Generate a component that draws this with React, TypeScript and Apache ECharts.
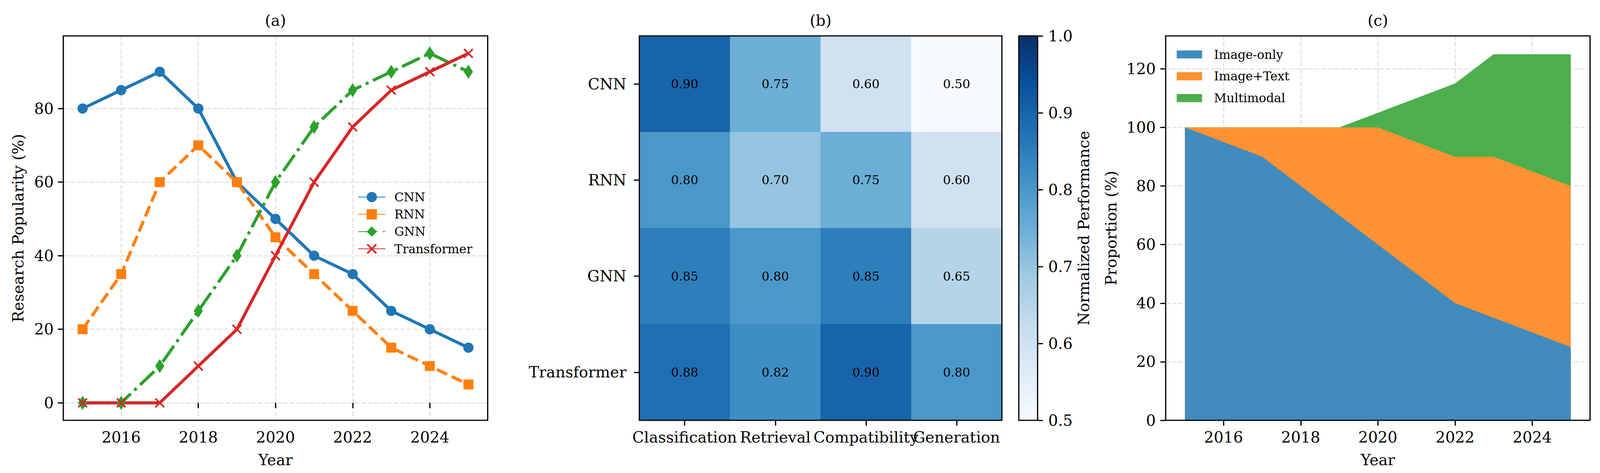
import React, { useEffect, useRef } from "react";
import * as echarts from "echarts";

// ---------------- data ----------------
const years = [2015, 2016, 2017, 2018, 2019, 2020, 2021, 2022, 2023, 2024, 2025];
const cnn = [80, 85, 90, 80, 60, 50, 40, 35, 25, 20, 15];
const rnn = [20, 35, 60, 70, 60, 45, 35, 25, 15, 10, 5];
const gnn = [0, 0, 10, 25, 40, 60, 75, 85, 90, 95, 90];
const transformer = [0, 0, 0, 10, 20, 40, 60, 75, 85, 90, 95];

const heatRows = ["CNN", "RNN", "GNN", "Transformer"];
const heatCols = ["Classification", "Retrieval", "Compatibility", "Generation"];
const heatCNN = [0.9, 0.75, 0.6, 0.5];
const heatRNN = [0.8, 0.7, 0.75, 0.6];
const heatGNN = [0.85, 0.8, 0.85, 0.65];
const heatTransformer = [0.88, 0.82, 0.9, 0.8];

const imageOnly = [100, 95, 90, 80, 70, 60, 50, 40, 35, 30, 25];
const imageText = [0, 5, 10, 20, 30, 40, 45, 50, 55, 55, 55];
const multimodal = [0, 0, 0, 0, 0, 5, 15, 25, 35, 40, 45];

const yearTicks = [2016, 2018, 2020, 2022, 2024];
const popTicks = [0, 20, 40, 60, 80];
const propTicks = [0, 20, 40, 60, 80, 100, 120];

// ---------------- styles / layout ----------------
const W = 4347;
const H = 1212;
const FONT = "'DejaVu Serif', serif";
const BLUES = ["#f7fbff", "#deebf7", "#c6dbef", "#9ecae1", "#6baed6", "#4292c6", "#2171b5", "#08519c", "#08306b"];
const TAB = { blue: "#1f77b4", orange: "#ff7f0e", green: "#2ca02c", red: "#d62728" };
const AREA = { blue: "#418bbf", orange: "#ff9232", green: "#4cae4c" };
const X_SYMBOL = "path://M0,12L12,0L50,38L88,0L100,12L62,50L100,88L88,100L50,62L12,100L0,88L38,50Z";

export default function App() {
  const ref = useRef<HTMLDivElement>(null);

  useEffect(() => {
    const el = ref.current;
    if (!el) return;
    const vw = window.innerWidth || W;
    const vh = window.innerHeight || H;
    const kx = vw / W;
    const ky = vh / H;
    const k = Math.min(kx, ky);
    const X = (v: number) => v * kx;
    const Y = (v: number) => v * ky;
    const K = (v: number) => v * k;

    const chart = echarts.init(el, undefined, { renderer: "svg", width: vw, height: vh });

    const box = (l: number, t: number, w: number, h: number) => ({ left: X(l), top: Y(t), width: X(w), height: Y(h) });
    const A = box(172, 92, 1153, 985);
    const B = box(1737, 92, 985, 985);
    const CB = box(2768, 92, 51, 985);
    const C = box(3167, 92, 1153, 985);

    const FS = K(41.7);
    const FS_SMALL = K(33.3);

    const tick = (customValues?: number[]) => ({
      show: true,
      length: K(14.6),
      inside: false,
      alignWithLabel: true,
      ...(customValues ? { customValues } : {}),
      lineStyle: { color: "#000", width: K(3.3) },
    });
    const label = (margin: number, extra: any = {}) => ({
      fontFamily: FONT,
      fontSize: FS,
      color: "#000",
      margin: K(margin),
      ...extra,
    });
    const gridLine = {
      show: true,
      lineStyle: { color: "rgba(176,176,176,0.35)", width: K(3.3), type: [K(12.3), K(5.3)] },
    };
    const frame = (g: any) => ({
      type: "rect",
      silent: true,
      z: 100,
      shape: { x: g.left, y: g.top, width: g.width, height: g.height },
      style: { fill: "none", stroke: "#000", lineWidth: K(3.3) },
    });
    const txt = (text: string, x: number, y: number, rot = 0, size = FS) => ({
      type: "text",
      silent: true,
      z: 100,
      x,
      y,
      rotation: rot,
      style: {
        text,
        fontFamily: FONT,
        fontSize: size,
        fill: "#000",
        align: "center",
        verticalAlign: "middle",
        textAlign: "center",
        textVerticalAlign: "middle",
      },
    });
    const plain = (v: number) => String(v);

    const pts = (arr: number[]) => years.map((y, i) => [y, arr[i]]);
    const heatRowsValues = [heatCNN, heatRNN, heatGNN, heatTransformer];
    const heatData: number[][] = [];
    heatRowsValues.forEach((row, r) => row.forEach((v, c) => heatData.push([c, r, v])));

    const textTop = imageOnly.map((v, i) => v + imageText[i]);
    const multiTop = textTop.map((v, i) => v + multimodal[i]);

    const lineSeries = (name: string, arr: number[], color: string, symbol: any, symbolSize: any, dash: any) => ({
      type: "line",
      name,
      xAxisIndex: 0,
      yAxisIndex: 0,
      data: pts(arr),
      symbol,
      symbolSize,
      showSymbol: true,
      lineStyle: { color, width: K(8.3), type: dash },
      itemStyle: { color, borderWidth: 0 },
      emphasis: { disabled: true },
    });

    const areaSeries = (name: string, arr: number[], color: string) => ({
      type: "line",
      name,
      xAxisIndex: 3,
      yAxisIndex: 3,
      data: pts(arr),
      symbol: "none",
      showSymbol: false,
      lineStyle: { width: 0, color },
      itemStyle: { color },
      areaStyle: { color, opacity: 1 },
      emphasis: { disabled: true },
    });

    const option: any = {
      animation: false,
      backgroundColor: "#ffffff",
      grid: [
        { ...A, containLabel: false },
        { ...B, containLabel: false },
        { ...CB, containLabel: false },
        { ...C, containLabel: false },
      ],
      xAxis: [
        {
          gridIndex: 0,
          type: "value",
          min: 2014.5,
          max: 2025.5,
          splitNumber: 5,
          axisLine: { show: false },
          axisTick: tick(yearTicks),
          axisLabel: label(25, { customValues: yearTicks, formatter: plain }),
          splitLine: gridLine,
        },
        {
          gridIndex: 1,
          type: "category",
          data: heatCols,
          axisLine: { show: false },
          axisTick: { ...tick(), interval: 0 },
          axisLabel: label(25, { interval: 0 }),
          splitLine: { show: false },
          splitArea: { show: false },
        },
        { gridIndex: 2, type: "category", data: [""], show: false },
        {
          gridIndex: 3,
          type: "value",
          min: 2014.5,
          max: 2025.5,
          splitNumber: 5,
          z: 3,
          axisLine: { show: false },
          axisTick: tick(yearTicks),
          axisLabel: label(25, { customValues: yearTicks, formatter: plain }),
          splitLine: gridLine,
        },
      ],
      yAxis: [
        {
          gridIndex: 0,
          type: "value",
          min: -4.75,
          max: 99.75,
          splitNumber: 5,
          axisLine: { show: false },
          axisTick: tick(popTicks),
          axisLabel: label(26, { customValues: popTicks, formatter: plain }),
          splitLine: gridLine,
        },
        {
          gridIndex: 1,
          type: "category",
          data: heatRows,
          inverse: true,
          axisLine: { show: false },
          axisTick: { ...tick(), interval: 0 },
          axisLabel: label(35, { interval: 0 }),
          splitLine: { show: false },
          splitArea: { show: false },
        },
        {
          gridIndex: 2,
          type: "value",
          position: "right",
          min: 0.5,
          max: 1.0,
          interval: 0.1,
          axisLine: { show: false },
          axisTick: tick(),
          axisLabel: label(29, { formatter: (v: number) => v.toFixed(1) }),
          splitLine: { show: false },
        },
        {
          gridIndex: 3,
          type: "value",
          min: 0,
          max: 131.25,
          interval: 20,
          z: 3,
          axisLine: { show: false },
          axisTick: tick(propTicks),
          axisLabel: label(27, { customValues: propTicks, formatter: plain }),
          splitLine: gridLine,
        },
      ],
      visualMap: {
        show: false,
        type: "continuous",
        seriesIndex: 4,
        dimension: 2,
        min: 0.5,
        max: 1.0,
        inRange: { color: BLUES },
      },
      legend: [
        {
          data: ["CNN", "RNN", "GNN", "Transformer"],
          orient: "vertical",
          left: X(972),
          top: Y(489.5),
          itemWidth: K(74),
          itemHeight: K(35),
          itemGap: K(14),
          padding: 0,
          selectedMode: false,
          textStyle: { fontFamily: FONT, fontSize: FS_SMALL, color: "#000", padding: [0, 0, 0, K(19)] },
        },
        {
          data: [
            { name: "Image-only", itemStyle: { color: AREA.blue, borderWidth: 0 } },
            { name: "Image+Text", itemStyle: { color: AREA.orange, borderWidth: 0 } },
            { name: "Multimodal", itemStyle: { color: AREA.green, borderWidth: 0 } },
          ],
          icon: "rect",
          orient: "vertical",
          left: X(3197),
          top: Y(124),
          itemWidth: K(69),
          itemHeight: K(22),
          itemGap: K(26.5),
          padding: 0,
          selectedMode: false,
          textStyle: { fontFamily: FONT, fontSize: FS_SMALL, color: "#000", padding: [0, 0, 0, K(27)] },
        },
      ],
      series: [
        lineSeries("CNN", cnn, TAB.blue, "circle", K(28), "solid"),
        lineSeries("RNN", rnn, TAB.orange, "rect", K(27), [K(30.8), K(13.3)]),
        lineSeries("GNN", gnn, TAB.green, "diamond", [K(25), K(38)], [K(53), K(13.3), K(8.3), K(13.3)]),
        lineSeries("Transformer", transformer, TAB.red, X_SYMBOL, K(27), "solid"),
        {
          type: "heatmap",
          xAxisIndex: 1,
          yAxisIndex: 1,
          data: heatData,
          itemStyle: { borderWidth: 0 },
          label: {
            show: true,
            formatter: (p: any) => Number(p.value[2]).toFixed(2),
            fontFamily: FONT,
            fontSize: FS_SMALL,
            color: "#000",
          },
          emphasis: { disabled: true },
        },
        // cumulative layers, drawn from the top layer down
        areaSeries("Multimodal", multiTop, AREA.green),
        areaSeries("Image+Text", textTop, AREA.orange),
        areaSeries("Image-only", imageOnly, AREA.blue),
      ],
      graphic: [
        {
          type: "rect",
          silent: true,
          z: 1,
          shape: { x: CB.left, y: CB.top, width: CB.width, height: CB.height },
          style: {
            fill: new echarts.graphic.LinearGradient(
              0,
              0,
              0,
              1,
              BLUES.slice()
                .reverse()
                .map((c, i) => ({ offset: i / (BLUES.length - 1), color: c }))
            ),
          },
        },
        frame(A),
        frame(B),
        frame(CB),
        frame(C),
        txt("(a)", A.left + A.width / 2, Y(52)),
        txt("(b)", B.left + B.width / 2, Y(52)),
        txt("(c)", C.left + C.width / 2, Y(52)),
        txt("Year", A.left + A.width / 2, Y(1178)),
        txt("Year", C.left + C.width / 2, Y(1178)),
        txt("Research Popularity (%)", X(49), A.top + A.height / 2, Math.PI / 2),
        txt("Normalized Performance", X(2945), CB.top + CB.height / 2, Math.PI / 2),
        txt("Proportion (%)", X(3019), C.top + C.height / 2, Math.PI / 2),
      ],
    };

    chart.setOption(option);
    return () => chart.dispose();
  }, []);

  return <div ref={ref} style={{ position: "fixed", left: 0, top: 0, width: "100vw", height: "100vh" }} />;
}
